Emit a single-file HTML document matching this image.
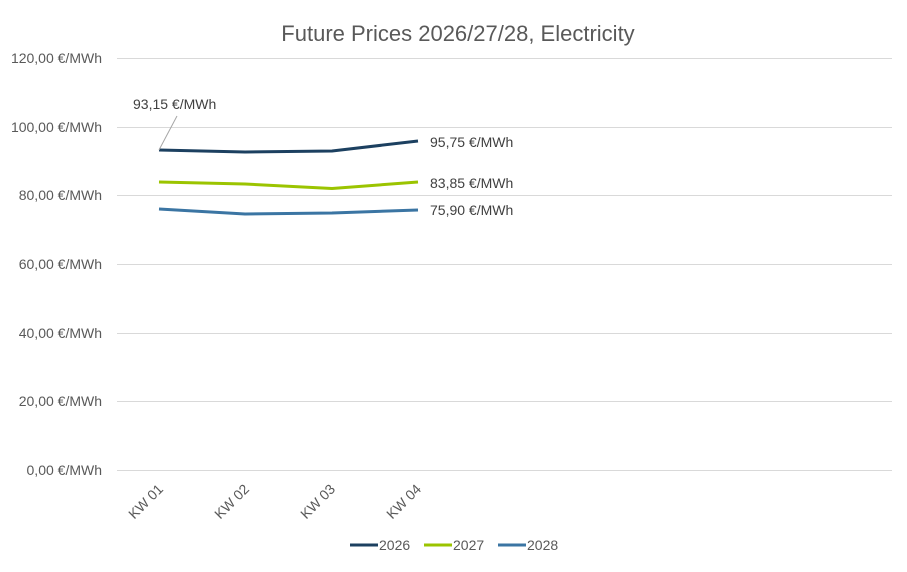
<!DOCTYPE html>
<html><head><style>body{margin:0;background:#fff}</style></head><body>
<svg width="907" height="567" xmlns="http://www.w3.org/2000/svg" font-family="Liberation Sans, sans-serif">
<rect width="907" height="567" fill="#fff"/>
<text x="458" y="41" text-anchor="middle" font-size="22" fill="#595959">Future Prices 2026/27/28, Electricity</text>
<g stroke="#d9d9d9" stroke-width="1">
<line x1="117" y1="58.5" x2="892" y2="58.5"/><line x1="117" y1="127.5" x2="892" y2="127.5"/>
<line x1="117" y1="195.5" x2="892" y2="195.5"/><line x1="117" y1="264.5" x2="892" y2="264.5"/>
<line x1="117" y1="333.5" x2="892" y2="333.5"/><line x1="117" y1="401.5" x2="892" y2="401.5"/>
<line x1="117" y1="470.5" x2="892" y2="470.5"/>
</g>
<g font-size="14" fill="#595959" text-anchor="end">
<text x="102" y="63">120,00 €/MWh</text><text x="102" y="132">100,00 €/MWh</text>
<text x="102" y="200">80,00 €/MWh</text><text x="102" y="269">60,00 €/MWh</text>
<text x="102" y="338">40,00 €/MWh</text><text x="102" y="406">20,00 €/MWh</text>
<text x="102" y="475">0,00 €/MWh</text>
</g>
<g font-size="14" fill="#595959" text-anchor="end">
<text transform="translate(164,490) rotate(-45)">KW 01</text>
<text transform="translate(250,490) rotate(-45)">KW 02</text>
<text transform="translate(336,490) rotate(-45)">KW 03</text>
<text transform="translate(422,490) rotate(-45)">KW 04</text>
</g>
<g fill="none" stroke-width="3" stroke-linejoin="round">
<polyline stroke="#1c4060" points="159,150 245,152 332,151 418,141"/>
<polyline stroke="#9bc400" points="159,182 245,184 332,188.5 418,182"/>
<polyline stroke="#3b75a3" points="159,209 245,214 332,213 418,210"/>
</g>
<line x1="159" y1="150" x2="177" y2="116" stroke="#a6a6a6" stroke-width="1"/>
<g font-size="14" fill="#404040">
<text x="133" y="109">93,15 €/MWh</text>
<text x="430" y="147">95,75 €/MWh</text>
<text x="430" y="188">83,85 €/MWh</text>
<text x="430" y="215">75,90 €/MWh</text>
</g>
<g stroke-width="3">
<line x1="350" y1="545" x2="378" y2="545" stroke="#1c4060"/>
<line x1="424" y1="545" x2="452" y2="545" stroke="#9bc400"/>
<line x1="498" y1="545" x2="526" y2="545" stroke="#3b75a3"/>
</g>
<g font-size="14" fill="#595959">
<text x="379" y="550">2026</text><text x="453" y="550">2027</text><text x="527" y="550">2028</text>
</g>
</svg>
</body></html>
